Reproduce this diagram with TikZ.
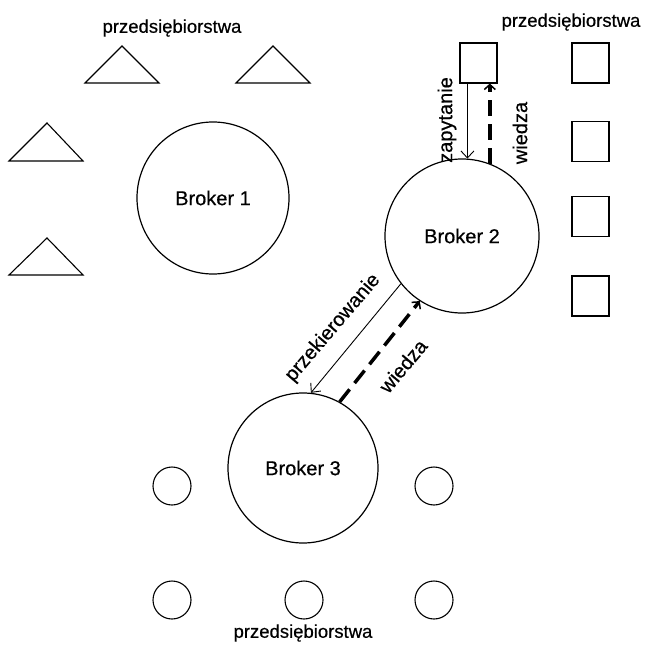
\documentclass[tikz,border=0pt]{standalone}
\usepackage{fontspec}
\setmainfont{Liberation Sans}
\newfontfamily\txtfont{Liberation Sans}[FakeBold=0.5]
\usetikzlibrary{arrows.meta}
\begin{document}
\begin{tikzpicture}[x=1pt,y=-1pt,
  lbl/.style={font=\txtfont\fontsize{20}{22}\selectfont, inner sep=0pt},
  firmlbl/.style={font=\txtfont\fontsize{18.5}{22}\selectfont, inner sep=0pt},
  broker/.style={draw, circle, line width=1.2pt, inner sep=0pt, font=\txtfont\fontsize{20}{22}\selectfont},
  firmsq/.style={draw, rectangle, line width=1.1pt, minimum width=37pt, minimum height=40pt, inner sep=0pt},
  firmci/.style={draw, circle, line width=1.1pt, minimum size=38pt, inner sep=0pt},
  tri/.style={line width=1.1pt, line join=miter},
  solidarr/.style={line width=0.9pt, -{Straight Barb[length=7pt,width=13pt,line width=0.9pt]}},
  dasharr/.style={line width=3.5pt, dash pattern=on 16pt off 8pt, -{Straight Barb[length=5pt,width=11pt,line width=1.5pt]}}
]
\useasboundingbox (0,0) rectangle (653,650);

% brokers
\node[broker, minimum size=152pt] (b1) at (213,198) {Broker 1};
\node[broker, minimum size=154pt] (b2) at (462,236) {Broker 2};
\node[broker, minimum size=150pt] (b3) at (303,468) {Broker 3};

% triangles (Broker 1 firms)
\draw[tri] (85,83) -- (122,46) -- (159,83) -- cycle;
\draw[tri] (236,83) -- (273,46) -- (310,83) -- cycle;
\draw[tri] (9,161) -- (47,123) -- (83,161) -- cycle;
\draw[tri] (9,275) -- (47,238) -- (83,275) -- cycle;
\node[firmlbl] (t1) at (172,28) {przedsiębiorstwa};

% squares (Broker 2 firms)
\node[firmsq] (sqA) at (478.5,63) {};
\node[firmsq] (sq1) at (590.5,63) {};
\node[firmsq] (sq2) at (590.5,141.5) {};
\node[firmsq] (sq3) at (590.5,216.5) {};
\node[firmsq] (sq4) at (590.5,296) {};
\node[firmlbl] (t2) at (571,22) {przedsiębiorstwa};

% circles (Broker 3 firms)
\node[firmci] (c1) at (172,486) {};
\node[firmci] (c2) at (434,486) {};
\node[firmci] (c3) at (172,600) {};
\node[firmci] (c4) at (304,600) {};
\node[firmci] (c5) at (434,600) {};
\node[firmlbl] (t3) at (303,633) {przedsiębiorstwa};

% zapytanie / wiedza between sqA and Broker 2
\coordinate (zs) at (b2.86 |- sqA.south);
\draw[solidarr] (zs) -- (b2.86);
\coordinate (ws) at (b2.69 |- sqA.south);
\draw[dasharr] (b2.69) -- (ws);
\node[lbl, rotate=90] (lz) at (447,120) {zapytanie};
\node[lbl, rotate=90] (lw) at (520,133) {wiedza};

% przekierowanie / wiedza between Broker 2 and Broker 3
\draw[solidarr] (b2.218) -- (b3.84);
\draw[dasharr] (b3.61) -- (b2.237);
\node[lbl, rotate=49.5] (lp) at (333,328) {przekierowanie};
\node[lbl, rotate=50] (lw2) at (403,366) {wiedza};
\end{tikzpicture}
\end{document}
